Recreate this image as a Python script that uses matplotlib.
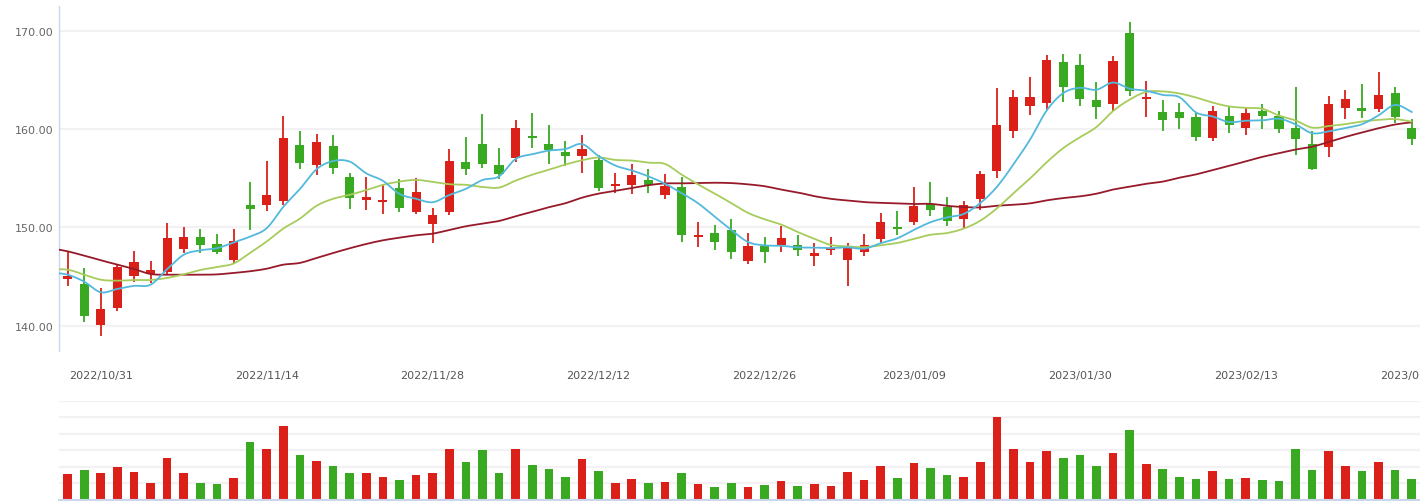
import numpy as np
import pandas as pd
import matplotlib
matplotlib.use("Agg")
import matplotlib.pyplot as plt

# ---------------- data ----------------
holidays = ["2023-01-02", "2023-01-23", "2023-01-24", "2023-01-25", "2023-01-26", "2023-01-27"]
dates = [d for d in pd.bdate_range("2022-10-27", "2023-02-27") if d.strftime("%Y-%m-%d") not in holidays]
date_labels = [d.strftime("%Y/%m/%d") for d in dates]

tick_labels = ["2022/10/31", "2022/11/14", "2022/11/28", "2022/12/12", "2022/12/26",
               "2023/01/09", "2023/01/30", "2023/02/13", "2023/02/27"]

opens = [144.79, 144.25, 140.10, 141.83, 145.09, 145.30, 145.44, 147.84, 149.03, 148.32,
         146.72, 152.29, 152.32, 152.73, 158.40, 156.40, 158.30, 155.14, 152.83, 152.63,
         154.02, 151.61, 150.39, 151.61, 156.67, 158.50, 156.36, 157.11, 159.22, 158.50,
         157.69, 157.31, 156.87, 154.26, 154.30, 154.84, 153.34, 154.12, 149.06, 149.44,
         149.75, 146.62, 148.12, 148.22, 148.22, 147.13, 147.74, 146.72, 147.54, 148.86,
         150.05, 150.59, 152.42, 152.09, 150.87, 152.93, 155.78, 159.86, 162.40, 162.71,
         166.85, 166.55, 162.98, 162.61, 169.81, 163.12, 161.76, 161.76, 161.23, 159.08,
         161.34, 160.13, 161.86, 161.34, 160.09, 158.53, 158.16, 162.21, 162.17, 162.10,
         163.73, 160.09]
closes = [145.06, 141.02, 141.70, 145.98, 146.49, 145.67, 148.93, 149.03, 148.25, 147.54,
          148.63, 151.91, 153.31, 159.11, 156.60, 158.71, 156.09, 153.03, 153.11, 152.83,
          152.02, 153.61, 151.27, 156.77, 155.99, 156.50, 155.48, 160.13, 159.15, 157.86,
          157.31, 157.99, 154.05, 154.33, 155.35, 154.30, 154.23, 149.27, 149.13, 148.55,
          147.54, 148.12, 147.54, 148.93, 147.74, 147.40, 147.91, 147.91, 148.22, 150.56,
          149.88, 152.19, 151.81, 150.69, 152.29, 155.42, 160.44, 163.29, 163.29, 167.06,
          164.34, 163.12, 162.30, 166.96, 163.93, 163.29, 160.98, 161.18, 159.20, 161.86,
          160.44, 161.65, 161.37, 160.03, 158.98, 155.97, 162.59, 163.11, 161.89, 163.52,
          161.27, 158.98]
highs = [147.47, 145.88, 143.84, 146.28, 147.61, 146.59, 150.46, 150.05, 149.85, 149.34,
         149.85, 154.63, 156.77, 161.35, 159.83, 159.52, 159.42, 155.55, 155.14, 154.43,
         154.94, 155.04, 151.99, 157.99, 159.22, 161.56, 158.10, 160.95, 161.66, 160.44,
         158.81, 159.42, 157.35, 155.55, 156.47, 155.96, 155.45, 155.14, 150.56, 150.25,
         150.87, 149.44, 149.03, 150.15, 149.24, 148.42, 149.03, 148.42, 149.34, 151.48,
         151.68, 154.12, 154.63, 153.11, 152.70, 155.75, 164.21, 164.00, 165.33, 167.57,
         167.67, 167.67, 164.82, 167.46, 170.93, 164.92, 162.98, 162.68, 161.72, 162.37,
         162.37, 162.27, 162.59, 161.86, 164.35, 159.79, 163.42, 164.04, 164.56, 165.80,
         164.35, 161.03]
lows = [144.07, 140.41, 138.98, 141.50, 144.48, 144.38, 145.30, 147.40, 147.40, 147.30,
        146.39, 149.78, 151.71, 152.29, 155.96, 155.38, 155.48, 151.91, 151.81, 151.41,
        151.61, 151.41, 148.45, 151.30, 155.38, 156.09, 154.97, 156.70, 158.13, 156.50,
        156.29, 155.58, 153.75, 153.54, 153.44, 153.54, 152.93, 148.55, 148.04, 147.74,
        146.82, 146.31, 146.42, 147.54, 147.13, 146.11, 147.23, 144.07, 147.13, 148.45,
        149.27, 150.28, 151.20, 150.18, 149.92, 151.81, 155.07, 159.14, 161.49, 162.00,
        162.81, 162.40, 161.08, 161.89, 163.42, 161.28, 159.86, 160.06, 158.85, 158.78,
        159.61, 159.40, 159.99, 159.61, 157.42, 155.87, 157.22, 161.06, 161.17, 161.79,
        160.64, 158.36]
volumes = [1.57, 1.81, 1.63, 1.99, 1.69, 1.03, 2.54, 1.63, 1.03, 0.97,
           1.33, 3.50, 3.08, 4.47, 2.72, 2.35, 2.05, 1.63, 1.63, 1.39,
           1.21, 1.51, 1.63, 3.08, 2.29, 3.02, 1.63, 3.08, 2.11, 1.87,
           1.39, 2.47, 1.75, 1.03, 1.27, 1.03, 1.09, 1.63, 0.97, 0.78,
           1.03, 0.78, 0.91, 1.15, 0.85, 0.97, 0.85, 1.69, 1.21, 2.05,
           1.33, 2.23, 1.93, 1.51, 1.39, 2.29, 5.01, 3.08, 2.29, 2.96,
           2.54, 2.72, 2.05, 2.84, 4.23, 2.17, 1.87, 1.39, 1.27, 1.75,
           1.27, 1.33, 1.21, 1.15, 3.08, 1.81, 2.96, 2.05, 1.75, 2.29,
           1.81, 1.27]

# moving-average values read from the chart where the window reaches before the
# first visible day (first value = the day before the first visible candle)
ma5_head = [145.40, 145.19, 144.48, 143.40, 143.74]
ma10_head = [145.72, 145.70, 145.19, 144.68, 144.58, 144.65, 144.65, 144.86, 145.23, 145.67]
ma30_head = [147.90, 147.57, 147.13, 146.66, 146.21, 145.77, 145.26, 145.19, 145.19, 145.19,
             145.22, 145.37, 145.54, 145.80, 146.21, 146.39, 146.89, 147.40, 147.88, 148.32,
             148.69, 148.96, 149.20, 149.37, 149.74, 150.12, 150.39, 150.66, 151.14, 151.58]

# ---------------- style ----------------
UP = "#da2019"
DOWN = "#39a922"
C_MA5 = "#52b9dc"
C_MA10 = "#a7cc5b"
C_MA30 = "#971a2a"
GRID = "#f2f2f4"
AXIS = "#ccd6eb"
TXT = "#666666"

n = len(closes)
x = np.arange(n)
o = np.array(opens); c = np.array(closes); h = np.array(highs); l = np.array(lows)
v = np.array(volumes)
up = c >= o
colors = [UP if u else DOWN for u in up]


def moving(head, window):
    s = pd.Series(closes).rolling(window).mean().to_numpy()
    vals = list(head) + list(s[window - 1:])
    xs = np.arange(-1, -1 + len(vals))
    return xs.astype(float), np.array(vals)


def smooth(xs, ys, k=12, t=0.5):
    """Catmull-Rom style rendering of a polyline (visual smoothing only)."""
    px, py = [], []
    m = len(xs)
    for i in range(m - 1):
        x0, y0 = xs[max(i - 1, 0)], ys[max(i - 1, 0)]
        x1, y1 = xs[i], ys[i]
        x2, y2 = xs[i + 1], ys[i + 1]
        x3, y3 = xs[min(i + 2, m - 1)], ys[min(i + 2, m - 1)]
        m1x, m1y = t * (x2 - x0), t * (y2 - y0)
        m2x, m2y = t * (x3 - x1), t * (y3 - y1)
        for s in np.linspace(0, 1, k, endpoint=False):
            h00 = 2 * s**3 - 3 * s**2 + 1
            h10 = s**3 - 2 * s**2 + s
            h01 = -2 * s**3 + 3 * s**2
            h11 = s**3 - s**2
            px.append(h00 * x1 + h10 * m1x + h01 * x2 + h11 * m2x)
            py.append(h00 * y1 + h10 * m1y + h01 * y2 + h11 * m2y)
    px.append(xs[-1]); py.append(ys[-1])
    return np.array(px), np.array(py)


W, H = 1420, 502
fig = plt.figure(figsize=(W / 100, H / 100), dpi=100)
L = 59.3 / W
ax = fig.add_axes([L, (H - 352) / H, 1 - L, 345 / H])
axv = fig.add_axes([L, (H - 501) / H, 1 - L, (501 - 401.7) / H])

# ---- main candlestick panel ----
for yv in [140, 150, 160, 170]:
    ax.axhline(yv, color=GRID, lw=1.6, zorder=0)

ax.vlines(x, l, h, colors=colors, lw=1.3, zorder=2)
body_lo = np.minimum(o, c)
body_h = np.maximum(np.abs(c - o), 0.18)
ax.bar(x, body_h, bottom=body_lo, width=0.55, color=colors, linewidth=0, zorder=3)

for (xs, ys), col in [(moving(ma30_head, 30), C_MA30), (moving(ma10_head, 10), C_MA10),
                      (moving(ma5_head, 5), C_MA5)]:
    sx, sy = smooth(xs, ys)
    ax.plot(sx, sy, color=col, lw=1.3, zorder=4, solid_joinstyle="round")

ax.set_xlim(-0.5, n - 0.5)
ax.set_ylim(137.42, 172.55)
ax.set_yticks([140, 150, 160, 170])
ax.set_yticklabels([f"{t:.2f}" for t in [140, 150, 160, 170]])
ax.tick_params(axis="y", length=0, pad=4, labelsize=8, labelcolor=TXT)
tick_pos = [date_labels.index(t) for t in tick_labels]
ax.set_xticks(tick_pos)
ax.set_xticklabels(tick_labels)
ax.tick_params(axis="x", length=0, pad=13.5, labelsize=8, labelcolor="#555555")
for s in ["top", "right", "bottom"]:
    ax.spines[s].set_visible(False)
ax.spines["left"].set_color(AXIS)
ax.spines["left"].set_linewidth(1.0)

# ---- volume panel ----
for yv in range(1, 7):
    axv.axhline(yv, color=GRID, lw=1.6, zorder=0)
axv.bar(x, v, width=0.52, color=colors, linewidth=0, zorder=2)
axv.set_xlim(-0.5, n - 0.5)
axv.set_ylim(0, 6)
axv.set_xticks([]); axv.set_yticks([])
for s in ["top", "right", "left"]:
    axv.spines[s].set_visible(False)
axv.spines["bottom"].set_color(AXIS)
axv.spines["bottom"].set_linewidth(1.5)

fig.savefig("out.png", dpi=100)
